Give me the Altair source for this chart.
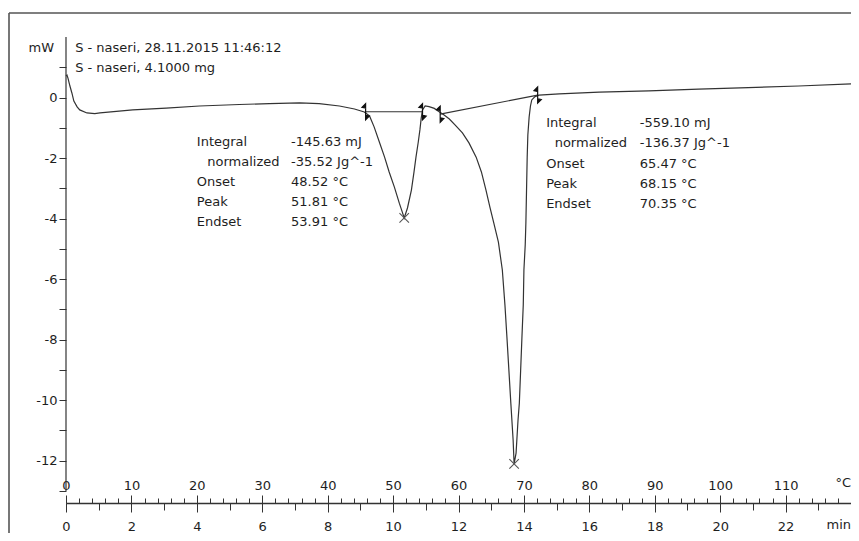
import altair as alt
import pandas as pd

# ---- data ----
temp_c = [0.0, 0.15, 0.3, 0.6, 0.9, 1.2, 1.7, 2.1, 3.2, 4.4, 5.2, 10.2, 15.3, 20.4, 26.5, 31.1, 35.7, 38.7,
          41.8, 44.1, 45.6,
          46.4, 47.1, 47.9, 48.7, 49.4, 50.2, 50.95, 51.4, 51.7, 52.2, 52.8, 53.2, 53.5, 53.85, 54.1, 54.3,
          54.5, 54.9, 55.5, 56.3, 57.1,
          57.8, 58.6, 59.5, 60.6, 61.6, 62.7, 63.5, 64.2, 64.8, 65.4, 66.1, 66.7, 67.1, 67.4, 67.7, 68.0,
          68.35, 68.5,
          68.8, 69.1, 69.3, 69.5, 69.7, 69.9, 70.0, 70.2, 70.3, 70.4, 70.5, 70.6, 70.8, 71.0, 71.2, 71.7, 72.3,
          75.4, 81.5, 89.1, 96.7, 104.3, 112.0, 120.0]
heat_mw = [0.71, 0.74, 0.64, 0.38, 0.15, -0.12, -0.31, -0.41, -0.51, -0.53, -0.51, -0.41, -0.35, -0.28,
           -0.23, -0.20, -0.18, -0.20, -0.28, -0.38, -0.48,
           -0.61, -0.97, -1.47, -1.97, -2.46, -2.96, -3.49, -3.78, -3.98, -3.65, -3.06, -2.46, -1.97, -1.47,
           -1.07, -0.68, -0.41, -0.28, -0.30, -0.36, -0.48,
           -0.58, -0.71, -0.91, -1.17, -1.50, -1.97, -2.46, -3.06, -3.62, -4.15, -4.78, -5.70, -6.86, -7.91,
           -9.0, -10.10, -11.32, -12.11,
           -11.75, -10.66, -10.10, -9.01, -7.91, -6.86, -5.70, -4.87, -4.15, -3.06, -1.97, -1.24, -0.64,
           -0.28, -0.08, 0.03, 0.08,
           0.12, 0.18, 0.22, 0.28, 0.33, 0.38, 0.45]

base1_t = [45.8, 54.5]
base1_v = [-0.47, -0.47]
base2_t = [57.2, 72.1]
base2_v = [-0.55, 0.08]
limit_t = [45.8, 54.5, 57.2, 72.1]
limit_v = [-0.47, -0.47, -0.55, 0.08]
peak_t = [51.7, 68.5]
peak_v = [-3.98, -12.11]

ann_labels = ["Integral", "normalized", "Onset", "Peak", "Endset"]
ann1_values = ["-145.63 mJ", "-35.52 Jg^-1", "48.52 °C", "51.81 °C", "53.91 °C"]
ann2_values = ["-559.10 mJ", "-136.37 Jg^-1", "65.47 °C", "68.15 °C", "70.35 °C"]
ann1_y = [-1.46, -2.12, -2.78, -3.44, -4.10]
ann2_y = [-0.84, -1.50, -2.20, -2.86, -3.52]
ann1_lx = [20.0, 21.6, 20.0, 20.0, 20.0]
ann2_lx = [73.4, 74.7, 73.4, 73.4, 73.4]
ann1_vx = 34.4
ann2_vx = 87.7

header = ["S - naseri, 28.11.2015 11:46:12", "S - naseri, 4.1000 mg"]
header_y = [1.64, 0.97]

temp_ticks = list(range(0, 111, 10))
minor_ticks = list(range(0, 121, 2))
min_ticks = list(range(0, 121, 10))
half_min_ticks = list(range(5, 120, 10))
y_ticks = list(range(-13, 2))

# ---- styling ----
FONT = "DejaVu Sans"
TXT = "#1e1e1e"
LINE = "#333333"
W, H = 785, 466

xs = alt.Scale(domain=[0, 120], nice=False, zero=False)
ys = alt.Scale(domain=[-13.4, 2.0], nice=False, zero=False)

curve_df = pd.DataFrame({"T": temp_c, "v": heat_mw})
curve = alt.Chart(curve_df).mark_line(color=LINE, strokeWidth=1.2).encode(
    x=alt.X("T:Q", scale=xs, axis=None),
    y=alt.Y("v:Q", scale=ys, axis=alt.Axis(
        orient="left", values=y_ticks, labelExpr="datum.value % 2 == 0 ? '' + datum.value : ''",
        tickSize=7, tickColor=LINE, domain=False, grid=False, title=None,
        labelFont=FONT, labelFontSize=13, labelColor=TXT, labelPadding=2)),
)

yline = alt.Chart(pd.DataFrame({"a": [2.0], "b": [-13.0]})).mark_rule(
    color=LINE, strokeWidth=1.2).encode(
    x=alt.value(0), y=alt.Y("a:Q", scale=ys, axis=None), y2="b:Q")

b1 = alt.Chart(pd.DataFrame({"T": base1_t, "v": base1_v})).mark_line(color=LINE, strokeWidth=1.1).encode(
    x=alt.X("T:Q", scale=xs, axis=None), y=alt.Y("v:Q", scale=ys, axis=None))
b2 = alt.Chart(pd.DataFrame({"T": base2_t, "v": base2_v})).mark_line(color=LINE, strokeWidth=1.1).encode(
    x=alt.X("T:Q", scale=xs, axis=None), y=alt.Y("v:Q", scale=ys, axis=None))

limit_shape = "M0,-1L0,1M0,-1L-0.45,-0.55L0,-0.45ZM0,1L0.45,0.55L0,0.45Z"
limits = alt.Chart(pd.DataFrame({"T": limit_t, "v": limit_v})).mark_point(
    shape=limit_shape, size=260, filled=True, fill="#111111", stroke="#111111",
    strokeWidth=1.2, opacity=1).encode(
    x=alt.X("T:Q", scale=xs, axis=None), y=alt.Y("v:Q", scale=ys, axis=None))

peaks = alt.Chart(pd.DataFrame({"T": peak_t, "v": peak_v})).mark_point(
    shape="M-1,-1L1,1M-1,1L1,-1", size=90, filled=False, color="#555555", strokeWidth=1.1, opacity=1).encode(
    x=alt.X("T:Q", scale=xs, axis=None), y=alt.Y("v:Q", scale=ys, axis=None))


def text_layer(xv, yv, txt, align="left"):
    df = pd.DataFrame({"T": xv, "v": yv, "t": txt})
    return alt.Chart(df).mark_text(font=FONT, fontSize=13, color=TXT, align=align,
                                   baseline="middle").encode(
        x=alt.X("T:Q", scale=xs, axis=None), y=alt.Y("v:Q", scale=ys, axis=None), text="t:N")


ann1a = text_layer(ann1_lx, ann1_y, ann_labels)
ann1b = text_layer([ann1_vx] * 5, ann1_y, ann1_values)
ann2a = text_layer(ann2_lx, ann2_y, ann_labels)
ann2b = text_layer([ann2_vx] * 5, ann2_y, ann2_values)
head = text_layer([1.4, 1.4], header_y, header)
mw = text_layer([-1.83], [1.64], ["mW"], align="right")

unit_df = pd.DataFrame({"T": [120.0, 120.0], "t": ["°C", "min"], "py": [446, 488]})
units = alt.Chart(unit_df).mark_text(font=FONT, fontSize=13, color=TXT, align="right",
                                     baseline="middle").encode(
    x=alt.X("T:Q", scale=xs, axis=None), y=alt.Y("py:Q", scale=None, axis=None), text="t:N")

# frame lines (decoration)
frame_top = alt.Chart(pd.DataFrame({"k": [0]})).mark_rule(color="#555555", strokeWidth=1.6).encode(
    x=alt.value(-57), x2=alt.value(W + 2), y=alt.value(-24))
frame_left = alt.Chart(pd.DataFrame({"k": [0]})).mark_rule(color="#555555", strokeWidth=1.6).encode(
    x=alt.value(-57), y=alt.value(-24), y2=alt.value(H + 40))


def axis_layer(axis):
    return alt.Chart(pd.DataFrame({"T": [0.0]})).mark_point(opacity=0).encode(
        x=alt.X("T:Q", scale=xs, axis=axis))


ax_min = axis_layer(alt.Axis(orient="bottom", values=min_ticks,
                             labelExpr="datum.value >= 120 ? '' : '' + (datum.value / 5)",
                             tickSize=9, tickColor=LINE, domain=True, domainColor=LINE, domainWidth=1.3,
                             grid=False, title=None, labelFont=FONT, labelFontSize=13, labelColor=TXT,
                             labelPadding=8, labelFlush=False, labelOverlap=False))
ax_half = axis_layer(alt.Axis(orient="bottom", values=half_min_ticks, labels=False,
                              tickSize=7, tickColor=LINE, domain=False, grid=False, title=None))
ax_temp = axis_layer(alt.Axis(orient="top", offset=-H, values=temp_ticks, labelExpr="'' + datum.value",
                              tickSize=8, tickColor=LINE, domain=False, grid=False, title=None,
                              labelFont=FONT, labelFontSize=13, labelColor=TXT, labelPadding=3,
                              labelFlush=False, labelOverlap=False))
ax_minor = axis_layer(alt.Axis(orient="top", offset=-H, values=minor_ticks, labels=False,
                               tickSize=5, tickColor=LINE, domain=False, grid=False, title=None))

chart = alt.layer(
    curve, frame_top, frame_left, ax_min, ax_half, ax_temp, ax_minor, yline, b1, b2, limits, peaks,
    ann1a, ann1b, ann2a, ann2b, head, mw, units
).resolve_axis(x="independent", y="independent").properties(
    width=W, height=H, autosize=alt.AutoSizeParams(type="none"),
    padding={"left": 58, "top": 29, "right": 0, "bottom": 30},
    background="white"
).configure_view(stroke=None)

chart.save("out.html", embed_options={"renderer": "svg", "actions": False})
